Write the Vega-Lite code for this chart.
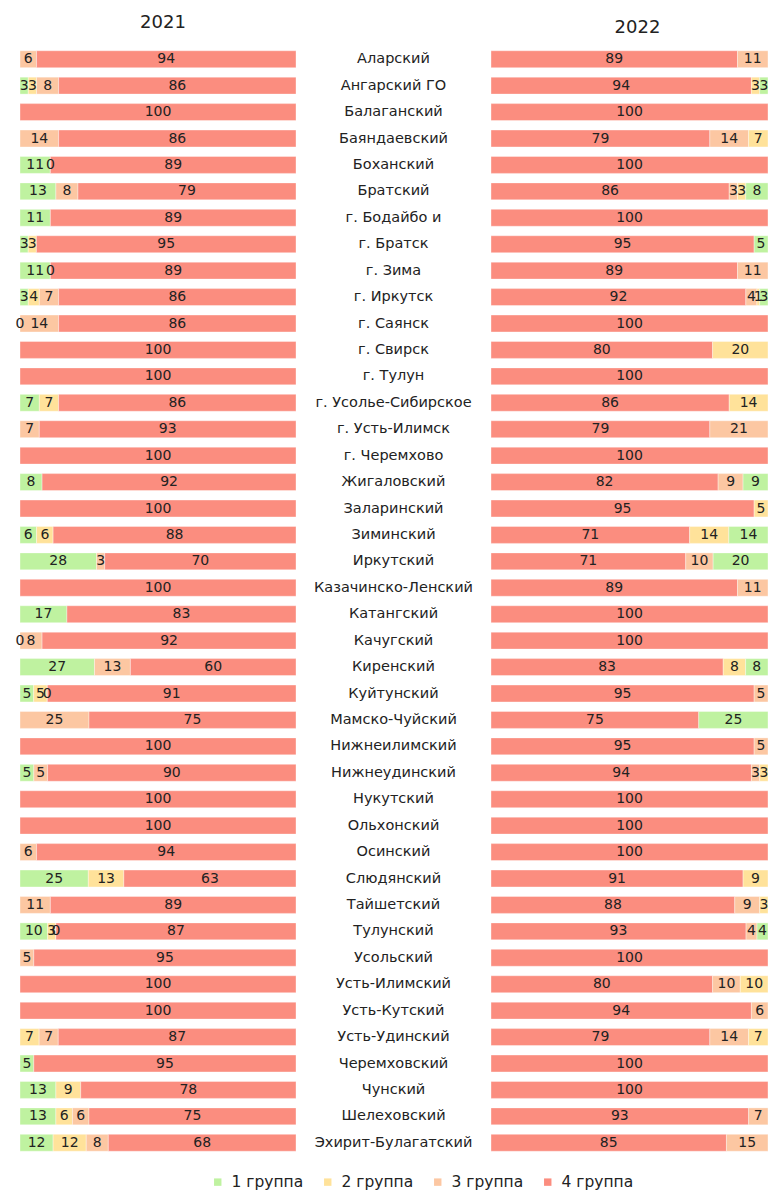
{
  "$schema": "https://vega.github.io/schema/vega-lite/v6.json",
  "padding": {"left": 15, "top": 14, "right": 0, "bottom": 0},
  "spacing": 0,
  "config": {
    "view": {"stroke": null},
    "font": "DejaVu Sans",
    "text": {"font": "DejaVu Sans", "fontSize": 14, "color": "#222222"},
    "title": {"font": "DejaVu Sans", "fontSize": 18, "fontWeight": "normal", "color": "#222222"}
  },
  "datasets": {
    "d": [
      {"region": "Аларский", "year": 2021, "group": "3 группа", "value": 6},
      {"region": "Аларский", "year": 2021, "group": "4 группа", "value": 94},
      {"region": "Ангарский ГО", "year": 2021, "group": "1 группа", "value": 3},
      {"region": "Ангарский ГО", "year": 2021, "group": "2 группа", "value": 3},
      {"region": "Ангарский ГО", "year": 2021, "group": "3 группа", "value": 8},
      {"region": "Ангарский ГО", "year": 2021, "group": "4 группа", "value": 86},
      {"region": "Балаганский", "year": 2021, "group": "4 группа", "value": 100},
      {"region": "Баяндаевский", "year": 2021, "group": "3 группа", "value": 14},
      {"region": "Баяндаевский", "year": 2021, "group": "4 группа", "value": 86},
      {"region": "Боханский", "year": 2021, "group": "1 группа", "value": 11},
      {"region": "Боханский", "year": 2021, "group": "2 группа", "value": 0},
      {"region": "Боханский", "year": 2021, "group": "4 группа", "value": 89},
      {"region": "Братский", "year": 2021, "group": "1 группа", "value": 13},
      {"region": "Братский", "year": 2021, "group": "3 группа", "value": 8},
      {"region": "Братский", "year": 2021, "group": "4 группа", "value": 79},
      {"region": "г. Бодайбо и", "year": 2021, "group": "1 группа", "value": 11},
      {"region": "г. Бодайбо и", "year": 2021, "group": "4 группа", "value": 89},
      {"region": "г. Братск", "year": 2021, "group": "1 группа", "value": 3},
      {"region": "г. Братск", "year": 2021, "group": "2 группа", "value": 3},
      {"region": "г. Братск", "year": 2021, "group": "4 группа", "value": 95},
      {"region": "г. Зима", "year": 2021, "group": "1 группа", "value": 11},
      {"region": "г. Зима", "year": 2021, "group": "2 группа", "value": 0},
      {"region": "г. Зима", "year": 2021, "group": "4 группа", "value": 89},
      {"region": "г. Иркутск", "year": 2021, "group": "1 группа", "value": 3},
      {"region": "г. Иркутск", "year": 2021, "group": "2 группа", "value": 4},
      {"region": "г. Иркутск", "year": 2021, "group": "3 группа", "value": 7},
      {"region": "г. Иркутск", "year": 2021, "group": "4 группа", "value": 86},
      {"region": "г. Саянск", "year": 2021, "group": "1 группа", "value": 0},
      {"region": "г. Саянск", "year": 2021, "group": "3 группа", "value": 14},
      {"region": "г. Саянск", "year": 2021, "group": "4 группа", "value": 86},
      {"region": "г. Свирск", "year": 2021, "group": "4 группа", "value": 100},
      {"region": "г. Тулун", "year": 2021, "group": "4 группа", "value": 100},
      {"region": "г. Усолье-Сибирское", "year": 2021, "group": "1 группа", "value": 7},
      {"region": "г. Усолье-Сибирское", "year": 2021, "group": "2 группа", "value": 7},
      {"region": "г. Усолье-Сибирское", "year": 2021, "group": "4 группа", "value": 86},
      {"region": "г. Усть-Илимск", "year": 2021, "group": "3 группа", "value": 7},
      {"region": "г. Усть-Илимск", "year": 2021, "group": "4 группа", "value": 93},
      {"region": "г. Черемхово", "year": 2021, "group": "4 группа", "value": 100},
      {"region": "Жигаловский", "year": 2021, "group": "1 группа", "value": 8},
      {"region": "Жигаловский", "year": 2021, "group": "4 группа", "value": 92},
      {"region": "Заларинский", "year": 2021, "group": "4 группа", "value": 100},
      {"region": "Зиминский", "year": 2021, "group": "1 группа", "value": 6},
      {"region": "Зиминский", "year": 2021, "group": "2 группа", "value": 6},
      {"region": "Зиминский", "year": 2021, "group": "4 группа", "value": 88},
      {"region": "Иркутский", "year": 2021, "group": "1 группа", "value": 28},
      {"region": "Иркутский", "year": 2021, "group": "3 группа", "value": 3},
      {"region": "Иркутский", "year": 2021, "group": "4 группа", "value": 70},
      {"region": "Казачинско-Ленский", "year": 2021, "group": "4 группа", "value": 100},
      {"region": "Катангский", "year": 2021, "group": "1 группа", "value": 17},
      {"region": "Катангский", "year": 2021, "group": "4 группа", "value": 83},
      {"region": "Качугский", "year": 2021, "group": "1 группа", "value": 0},
      {"region": "Качугский", "year": 2021, "group": "3 группа", "value": 8},
      {"region": "Качугский", "year": 2021, "group": "4 группа", "value": 92},
      {"region": "Киренский", "year": 2021, "group": "1 группа", "value": 27},
      {"region": "Киренский", "year": 2021, "group": "3 группа", "value": 13},
      {"region": "Киренский", "year": 2021, "group": "4 группа", "value": 60},
      {"region": "Куйтунский", "year": 2021, "group": "1 группа", "value": 5},
      {"region": "Куйтунский", "year": 2021, "group": "2 группа", "value": 5},
      {"region": "Куйтунский", "year": 2021, "group": "3 группа", "value": 0},
      {"region": "Куйтунский", "year": 2021, "group": "4 группа", "value": 91},
      {"region": "Мамско-Чуйский", "year": 2021, "group": "3 группа", "value": 25},
      {"region": "Мамско-Чуйский", "year": 2021, "group": "4 группа", "value": 75},
      {"region": "Нижнеилимский", "year": 2021, "group": "4 группа", "value": 100},
      {"region": "Нижнеудинский", "year": 2021, "group": "1 группа", "value": 5},
      {"region": "Нижнеудинский", "year": 2021, "group": "3 группа", "value": 5},
      {"region": "Нижнеудинский", "year": 2021, "group": "4 группа", "value": 90},
      {"region": "Нукутский", "year": 2021, "group": "4 группа", "value": 100},
      {"region": "Ольхонский", "year": 2021, "group": "4 группа", "value": 100},
      {"region": "Осинский", "year": 2021, "group": "3 группа", "value": 6},
      {"region": "Осинский", "year": 2021, "group": "4 группа", "value": 94},
      {"region": "Слюдянский", "year": 2021, "group": "1 группа", "value": 25},
      {"region": "Слюдянский", "year": 2021, "group": "2 группа", "value": 13},
      {"region": "Слюдянский", "year": 2021, "group": "4 группа", "value": 63},
      {"region": "Тайшетский", "year": 2021, "group": "3 группа", "value": 11},
      {"region": "Тайшетский", "year": 2021, "group": "4 группа", "value": 89},
      {"region": "Тулунский", "year": 2021, "group": "1 группа", "value": 10},
      {"region": "Тулунский", "year": 2021, "group": "2 группа", "value": 3},
      {"region": "Тулунский", "year": 2021, "group": "3 группа", "value": 0},
      {"region": "Тулунский", "year": 2021, "group": "4 группа", "value": 87},
      {"region": "Усольский", "year": 2021, "group": "3 группа", "value": 5},
      {"region": "Усольский", "year": 2021, "group": "4 группа", "value": 95},
      {"region": "Усть-Илимский", "year": 2021, "group": "4 группа", "value": 100},
      {"region": "Усть-Кутский", "year": 2021, "group": "4 группа", "value": 100},
      {"region": "Усть-Удинский", "year": 2021, "group": "2 группа", "value": 7},
      {"region": "Усть-Удинский", "year": 2021, "group": "3 группа", "value": 7},
      {"region": "Усть-Удинский", "year": 2021, "group": "4 группа", "value": 87},
      {"region": "Черемховский", "year": 2021, "group": "1 группа", "value": 5},
      {"region": "Черемховский", "year": 2021, "group": "4 группа", "value": 95},
      {"region": "Чунский", "year": 2021, "group": "1 группа", "value": 13},
      {"region": "Чунский", "year": 2021, "group": "2 группа", "value": 9},
      {"region": "Чунский", "year": 2021, "group": "4 группа", "value": 78},
      {"region": "Шелеховский", "year": 2021, "group": "1 группа", "value": 13},
      {"region": "Шелеховский", "year": 2021, "group": "2 группа", "value": 6},
      {"region": "Шелеховский", "year": 2021, "group": "3 группа", "value": 6},
      {"region": "Шелеховский", "year": 2021, "group": "4 группа", "value": 75},
      {"region": "Эхирит-Булагатский", "year": 2021, "group": "1 группа", "value": 12},
      {"region": "Эхирит-Булагатский", "year": 2021, "group": "2 группа", "value": 12},
      {"region": "Эхирит-Булагатский", "year": 2021, "group": "3 группа", "value": 8},
      {"region": "Эхирит-Булагатский", "year": 2021, "group": "4 группа", "value": 68},

      {"region": "Аларский", "year": 2022, "group": "4 группа", "value": 89},
      {"region": "Аларский", "year": 2022, "group": "3 группа", "value": 11},
      {"region": "Ангарский ГО", "year": 2022, "group": "4 группа", "value": 94},
      {"region": "Ангарский ГО", "year": 2022, "group": "2 группа", "value": 3},
      {"region": "Ангарский ГО", "year": 2022, "group": "1 группа", "value": 3},
      {"region": "Балаганский", "year": 2022, "group": "4 группа", "value": 100},
      {"region": "Баяндаевский", "year": 2022, "group": "4 группа", "value": 79},
      {"region": "Баяндаевский", "year": 2022, "group": "3 группа", "value": 14},
      {"region": "Баяндаевский", "year": 2022, "group": "2 группа", "value": 7},
      {"region": "Боханский", "year": 2022, "group": "4 группа", "value": 100},
      {"region": "Братский", "year": 2022, "group": "4 группа", "value": 86},
      {"region": "Братский", "year": 2022, "group": "3 группа", "value": 3},
      {"region": "Братский", "year": 2022, "group": "2 группа", "value": 3},
      {"region": "Братский", "year": 2022, "group": "1 группа", "value": 8},
      {"region": "г. Бодайбо и", "year": 2022, "group": "4 группа", "value": 100},
      {"region": "г. Братск", "year": 2022, "group": "4 группа", "value": 95},
      {"region": "г. Братск", "year": 2022, "group": "1 группа", "value": 5},
      {"region": "г. Зима", "year": 2022, "group": "4 группа", "value": 89},
      {"region": "г. Зима", "year": 2022, "group": "3 группа", "value": 11},
      {"region": "г. Иркутск", "year": 2022, "group": "4 группа", "value": 92},
      {"region": "г. Иркутск", "year": 2022, "group": "3 группа", "value": 4},
      {"region": "г. Иркутск", "year": 2022, "group": "2 группа", "value": 1},
      {"region": "г. Иркутск", "year": 2022, "group": "1 группа", "value": 3},
      {"region": "г. Саянск", "year": 2022, "group": "4 группа", "value": 100},
      {"region": "г. Свирск", "year": 2022, "group": "4 группа", "value": 80},
      {"region": "г. Свирск", "year": 2022, "group": "2 группа", "value": 20},
      {"region": "г. Тулун", "year": 2022, "group": "4 группа", "value": 100},
      {"region": "г. Усолье-Сибирское", "year": 2022, "group": "4 группа", "value": 86},
      {"region": "г. Усолье-Сибирское", "year": 2022, "group": "2 группа", "value": 14},
      {"region": "г. Усть-Илимск", "year": 2022, "group": "4 группа", "value": 79},
      {"region": "г. Усть-Илимск", "year": 2022, "group": "3 группа", "value": 21},
      {"region": "г. Черемхово", "year": 2022, "group": "4 группа", "value": 100},
      {"region": "Жигаловский", "year": 2022, "group": "4 группа", "value": 82},
      {"region": "Жигаловский", "year": 2022, "group": "3 группа", "value": 9},
      {"region": "Жигаловский", "year": 2022, "group": "1 группа", "value": 9},
      {"region": "Заларинский", "year": 2022, "group": "4 группа", "value": 95},
      {"region": "Заларинский", "year": 2022, "group": "2 группа", "value": 5},
      {"region": "Зиминский", "year": 2022, "group": "4 группа", "value": 71},
      {"region": "Зиминский", "year": 2022, "group": "2 группа", "value": 14},
      {"region": "Зиминский", "year": 2022, "group": "1 группа", "value": 14},
      {"region": "Иркутский", "year": 2022, "group": "4 группа", "value": 71},
      {"region": "Иркутский", "year": 2022, "group": "3 группа", "value": 10},
      {"region": "Иркутский", "year": 2022, "group": "1 группа", "value": 20},
      {"region": "Казачинско-Ленский", "year": 2022, "group": "4 группа", "value": 89},
      {"region": "Казачинско-Ленский", "year": 2022, "group": "3 группа", "value": 11},
      {"region": "Катангский", "year": 2022, "group": "4 группа", "value": 100},
      {"region": "Качугский", "year": 2022, "group": "4 группа", "value": 100},
      {"region": "Киренский", "year": 2022, "group": "4 группа", "value": 83},
      {"region": "Киренский", "year": 2022, "group": "2 группа", "value": 8},
      {"region": "Киренский", "year": 2022, "group": "1 группа", "value": 8},
      {"region": "Куйтунский", "year": 2022, "group": "4 группа", "value": 95},
      {"region": "Куйтунский", "year": 2022, "group": "3 группа", "value": 5},
      {"region": "Мамско-Чуйский", "year": 2022, "group": "4 группа", "value": 75},
      {"region": "Мамско-Чуйский", "year": 2022, "group": "1 группа", "value": 25},
      {"region": "Нижнеилимский", "year": 2022, "group": "4 группа", "value": 95},
      {"region": "Нижнеилимский", "year": 2022, "group": "3 группа", "value": 5},
      {"region": "Нижнеудинский", "year": 2022, "group": "4 группа", "value": 94},
      {"region": "Нижнеудинский", "year": 2022, "group": "3 группа", "value": 3},
      {"region": "Нижнеудинский", "year": 2022, "group": "2 группа", "value": 3},
      {"region": "Нукутский", "year": 2022, "group": "4 группа", "value": 100},
      {"region": "Ольхонский", "year": 2022, "group": "4 группа", "value": 100},
      {"region": "Осинский", "year": 2022, "group": "4 группа", "value": 100},
      {"region": "Слюдянский", "year": 2022, "group": "4 группа", "value": 91},
      {"region": "Слюдянский", "year": 2022, "group": "2 группа", "value": 9},
      {"region": "Тайшетский", "year": 2022, "group": "4 группа", "value": 88},
      {"region": "Тайшетский", "year": 2022, "group": "3 группа", "value": 9},
      {"region": "Тайшетский", "year": 2022, "group": "2 группа", "value": 3},
      {"region": "Тулунский", "year": 2022, "group": "4 группа", "value": 93},
      {"region": "Тулунский", "year": 2022, "group": "3 группа", "value": 4},
      {"region": "Тулунский", "year": 2022, "group": "1 группа", "value": 4},
      {"region": "Усольский", "year": 2022, "group": "4 группа", "value": 100},
      {"region": "Усть-Илимский", "year": 2022, "group": "4 группа", "value": 80},
      {"region": "Усть-Илимский", "year": 2022, "group": "3 группа", "value": 10},
      {"region": "Усть-Илимский", "year": 2022, "group": "2 группа", "value": 10},
      {"region": "Усть-Кутский", "year": 2022, "group": "4 группа", "value": 94},
      {"region": "Усть-Кутский", "year": 2022, "group": "3 группа", "value": 6},
      {"region": "Усть-Удинский", "year": 2022, "group": "4 группа", "value": 79},
      {"region": "Усть-Удинский", "year": 2022, "group": "3 группа", "value": 14},
      {"region": "Усть-Удинский", "year": 2022, "group": "2 группа", "value": 7},
      {"region": "Черемховский", "year": 2022, "group": "4 группа", "value": 100},
      {"region": "Чунский", "year": 2022, "group": "4 группа", "value": 100},
      {"region": "Шелеховский", "year": 2022, "group": "4 группа", "value": 93},
      {"region": "Шелеховский", "year": 2022, "group": "3 группа", "value": 7},
      {"region": "Эхирит-Булагатский", "year": 2022, "group": "4 группа", "value": 85},
      {"region": "Эхирит-Булагатский", "year": 2022, "group": "3 группа", "value": 15}
    ],
    "regions": [
      {"region": "Аларский"}, {"region": "Ангарский ГО"}, {"region": "Балаганский"}, {"region": "Баяндаевский"},
      {"region": "Боханский"}, {"region": "Братский"}, {"region": "г. Бодайбо и"}, {"region": "г. Братск"},
      {"region": "г. Зима"}, {"region": "г. Иркутск"}, {"region": "г. Саянск"}, {"region": "г. Свирск"},
      {"region": "г. Тулун"}, {"region": "г. Усолье-Сибирское"}, {"region": "г. Усть-Илимск"}, {"region": "г. Черемхово"},
      {"region": "Жигаловский"}, {"region": "Заларинский"}, {"region": "Зиминский"}, {"region": "Иркутский"},
      {"region": "Казачинско-Ленский"}, {"region": "Катангский"}, {"region": "Качугский"}, {"region": "Киренский"},
      {"region": "Куйтунский"}, {"region": "Мамско-Чуйский"}, {"region": "Нижнеилимский"}, {"region": "Нижнеудинский"},
      {"region": "Нукутский"}, {"region": "Ольхонский"}, {"region": "Осинский"}, {"region": "Слюдянский"},
      {"region": "Тайшетский"}, {"region": "Тулунский"}, {"region": "Усольский"}, {"region": "Усть-Илимский"},
      {"region": "Усть-Кутский"}, {"region": "Усть-Удинский"}, {"region": "Черемховский"}, {"region": "Чунский"},
      {"region": "Шелеховский"}, {"region": "Эхирит-Булагатский"}
    ]
  },
  "resolve": {"scale": {"y": "shared", "color": "shared"}},
  "hconcat": [
    {
      "width": 276,
      "height": 1110,
      "data": {"name": "d"},
      "title": {"text": "2021", "offset": 14, "dx": 5},
      "transform": [
        {"filter": "datum.year == 2021"},
        {"stack": "value", "groupby": ["region"], "sort": [{"field": "group", "order": "ascending"}], "offset": "normalize", "as": ["x0", "x1"]},
        {"calculate": "(datum.x0 + datum.x1) / 2", "as": "xm"}
      ],
      "encoding": {
        "y": {
          "field": "region", "type": "nominal", "axis": null,
          "sort": ["Аларский","Ангарский ГО","Балаганский","Баяндаевский","Боханский","Братский","г. Бодайбо и","г. Братск","г. Зима","г. Иркутск","г. Саянск","г. Свирск","г. Тулун","г. Усолье-Сибирское","г. Усть-Илимск","г. Черемхово","Жигаловский","Заларинский","Зиминский","Иркутский","Казачинско-Ленский","Катангский","Качугский","Киренский","Куйтунский","Мамско-Чуйский","Нижнеилимский","Нижнеудинский","Нукутский","Ольхонский","Осинский","Слюдянский","Тайшетский","Тулунский","Усольский","Усть-Илимский","Усть-Кутский","Усть-Удинский","Черемховский","Чунский","Шелеховский","Эхирит-Булагатский"],
          "scale": {"paddingInner": 0.36, "paddingOuter": 0.18}
        }
      },
      "layer": [
        {
          "mark": {"type": "bar", "stroke": "#ffffff", "strokeWidth": 0.6, "strokeOpacity": 0.6},
          "encoding": {
            "x": {"field": "x0", "type": "quantitative", "axis": null, "scale": {"domain": [0, 1], "nice": false}},
            "x2": {"field": "x1"},
            "color": {
              "field": "group", "type": "nominal",
              "scale": {"domain": ["1 группа", "2 группа", "3 группа", "4 группа"], "range": ["#bff2a0", "#ffe29a", "#fcc7a2", "#fb8d7f"]},
              "legend": {
                "orient": "none", "direction": "horizontal", "title": null,
                "legendX": 190, "legendY": 1128,
                "symbolType": "square", "symbolSize": 55, "symbolStrokeWidth": 0,
                "labelFontSize": 15.5, "labelFont": "DejaVu Sans", "labelColor": "#222222",
                "columnPadding": 16, "labelOffset": 6, "gridAlign": "all"
              }
            }
          }
        },
        {
          "mark": {"type": "text", "align": "center", "baseline": "middle"},
          "encoding": {
            "x": {"field": "xm", "type": "quantitative"},
            "text": {"field": "value", "type": "quantitative"}
          }
        }
      ]
    },
    {
      "width": 193,
      "height": 1110,
      "data": {"name": "regions"},
      "mark": {"type": "text", "align": "center", "baseline": "middle", "fontSize": 14.5},
      "encoding": {
        "y": {
          "field": "region", "type": "nominal", "axis": null,
          "sort": ["Аларский","Ангарский ГО","Балаганский","Баяндаевский","Боханский","Братский","г. Бодайбо и","г. Братск","г. Зима","г. Иркутск","г. Саянск","г. Свирск","г. Тулун","г. Усолье-Сибирское","г. Усть-Илимск","г. Черемхово","Жигаловский","Заларинский","Зиминский","Иркутский","Казачинско-Ленский","Катангский","Качугский","Киренский","Куйтунский","Мамско-Чуйский","Нижнеилимский","Нижнеудинский","Нукутский","Ольхонский","Осинский","Слюдянский","Тайшетский","Тулунский","Усольский","Усть-Илимский","Усть-Кутский","Усть-Удинский","Черемховский","Чунский","Шелеховский","Эхирит-Булагатский"],
          "scale": {"paddingInner": 0.36, "paddingOuter": 0.18}
        },
        "text": {"field": "region", "type": "nominal"}
      }
    },
    {
      "width": 277,
      "height": 1110,
      "data": {"name": "d"},
      "title": {"text": "2022", "offset": 9, "dx": 8},
      "transform": [
        {"filter": "datum.year == 2022"},
        {"stack": "value", "groupby": ["region"], "sort": [{"field": "group", "order": "descending"}], "offset": "normalize", "as": ["x0", "x1"]},
        {"calculate": "(datum.x0 + datum.x1) / 2", "as": "xm"}
      ],
      "encoding": {
        "y": {
          "field": "region", "type": "nominal", "axis": null,
          "sort": ["Аларский","Ангарский ГО","Балаганский","Баяндаевский","Боханский","Братский","г. Бодайбо и","г. Братск","г. Зима","г. Иркутск","г. Саянск","г. Свирск","г. Тулун","г. Усолье-Сибирское","г. Усть-Илимск","г. Черемхово","Жигаловский","Заларинский","Зиминский","Иркутский","Казачинско-Ленский","Катангский","Качугский","Киренский","Куйтунский","Мамско-Чуйский","Нижнеилимский","Нижнеудинский","Нукутский","Ольхонский","Осинский","Слюдянский","Тайшетский","Тулунский","Усольский","Усть-Илимский","Усть-Кутский","Усть-Удинский","Черемховский","Чунский","Шелеховский","Эхирит-Булагатский"],
          "scale": {"paddingInner": 0.36, "paddingOuter": 0.18}
        }
      },
      "layer": [
        {
          "mark": {"type": "bar", "stroke": "#ffffff", "strokeWidth": 0.6, "strokeOpacity": 0.6},
          "encoding": {
            "x": {"field": "x0", "type": "quantitative", "axis": null, "scale": {"domain": [0, 1], "nice": false}},
            "x2": {"field": "x1"},
            "color": {"field": "group", "type": "nominal"}
          }
        },
        {
          "mark": {"type": "text", "align": "center", "baseline": "middle"},
          "encoding": {
            "x": {"field": "xm", "type": "quantitative"},
            "text": {"field": "value", "type": "quantitative"}
          }
        }
      ]
    }
  ]
}
